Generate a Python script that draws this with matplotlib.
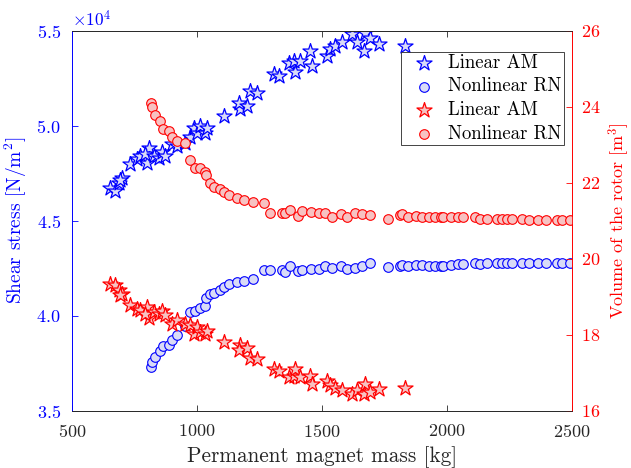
import numpy as np
import matplotlib
matplotlib.use("Agg")
import matplotlib.pyplot as plt
from matplotlib.ticker import ScalarFormatter

# -----------------------------
# Data
# -----------------------------
# Linear AM designs: magnet mass [kg], shear stress [N/m^2], rotor volume [m^3]
lin_mass = [653, 673, 687, 700, 693, 733, 760, 773, 800, 807, 793, 827, 847, 860,
            873, 900, 920, 953, 973, 987, 1000, 1013, 1033, 1040, 1107, 1173, 1167,
            1200, 1213, 1240, 1307, 1327, 1367, 1387, 1393, 1413, 1453, 1460, 1520,
            1533, 1553, 1580, 1620, 1640, 1673, 1667, 1693, 1727, 1833]
lin_stress = [46750, 46580, 47000, 47280, 47150, 48000, 48250, 48420, 48070, 48860,
              48510, 48420, 48330, 48600, 48420, 49040, 48950, 49120, 49390, 49910,
              49650, 50000, 49650, 49910, 50530, 50880, 51230, 51050, 51840, 51750,
              52720, 52630, 53330, 53420, 52810, 53420, 53950, 53160, 53680, 54040,
              54210, 54390, 54820, 54390, 54910, 53950, 54650, 54300, 54210]
lin_volume = [19.35, 19.30, 19.19, 19.07, 19.04, 18.79, 18.69, 18.66, 18.73, 18.44,
              18.56, 18.60, 18.56, 18.62, 18.53, 18.29, 18.38, 18.29, 18.25, 18.03,
              18.20, 18.07, 18.03, 18.11, 17.82, 17.74, 17.60, 17.65, 17.38, 17.37,
              17.10, 17.06, 16.88, 16.93, 17.10, 16.88, 16.93, 16.70, 16.79, 16.68,
              16.59, 16.55, 16.44, 16.55, 16.70, 16.44, 16.50, 16.57, 16.59]

# Nonlinear RN designs
nl_mass = [817, 820, 831, 853, 864, 887, 900, 920, 953, 973, 993, 1011, 1031, 1037,
           1051, 1069, 1091, 1107, 1127, 1160, 1187, 1224, 1269, 1291, 1340, 1353,
           1371, 1403, 1420, 1456, 1487, 1511, 1540, 1577, 1600, 1633, 1660, 1691,
           1763, 1811, 1820, 1843, 1877, 1900, 1927, 1951, 1977, 1987, 2017, 2047,
           2067, 2113, 2133, 2163, 2200, 2220, 2240, 2260, 2300, 2331, 2364, 2397,
           2440, 2460, 2493]
nl_stress = [37330, 37560, 37860, 38130, 38410, 38480, 38750, 39010, 39470, 40210,
             40250, 40390, 40510, 40920, 41130, 41180, 41340, 41540, 41660, 41770,
             41840, 41940, 42440, 42420, 42420, 42330, 42650, 42370, 42420, 42460,
             42460, 42650, 42510, 42650, 42470, 42540, 42600, 42770, 42560, 42600,
             42690, 42630, 42690, 42690, 42650, 42650, 42650, 42650, 42690, 42720,
             42720, 42770, 42720, 42770, 42770, 42770, 42770, 42770, 42810, 42810,
             42810, 42810, 42810, 42810, 42810]
nl_volume = [24.11, 24.00, 23.78, 23.63, 23.43, 23.37, 23.21, 23.11, 23.04, 22.61,
             22.38, 22.38, 22.29, 22.20, 21.99, 21.89, 21.85, 21.76, 21.68, 21.61,
             21.54, 21.50, 21.48, 21.22, 21.22, 21.22, 21.29, 21.13, 21.26, 21.24,
             21.22, 21.22, 21.11, 21.19, 21.11, 21.22, 21.18, 21.15, 21.06, 21.16,
             21.18, 21.11, 21.13, 21.11, 21.09, 21.11, 21.11, 21.11, 21.09, 21.09,
             21.09, 21.09, 21.06, 21.06, 21.04, 21.04, 21.04, 21.04, 21.04, 21.03,
             21.03, 21.03, 21.03, 21.03, 21.03]

# -----------------------------
# Style
# -----------------------------
plt.rcParams["font.family"] = ["cmr10", "DejaVu Serif"]
plt.rcParams["mathtext.fontset"] = "cm"
plt.rcParams["axes.formatter.use_mathtext"] = True
plt.rcParams["axes.unicode_minus"] = False

blue = (0, 0, 1)
red = (1, 0, 0)
blue_face = (0.85, 0.86, 0.97)
red_face = (0.97, 0.76, 0.76)
dark = (0.15, 0.15, 0.15)

fig = plt.figure(figsize=(6.31, 4.68), dpi=100)
ax1 = fig.add_axes([0.114, 0.122, 0.792, 0.812])
ax2 = ax1.twinx()

# -----------------------------
# Left axis: shear stress
# -----------------------------
h1 = ax1.scatter(lin_mass, lin_stress, s=130, marker="*", facecolor=blue_face,
                 edgecolor=blue, linewidth=0.9, label="Linear AM")
h2 = ax1.scatter(nl_mass, nl_stress, s=48, marker="o", facecolor=blue_face,
                 edgecolor=blue, linewidth=0.8, label="Nonlinear RN")

ax1.set_xlim(500, 2500)
ax1.set_ylim(35000, 55000)
ax1.set_xticks([500, 1000, 1500, 2000, 2500])
ax1.set_yticks([35000, 40000, 45000, 50000, 55000])
fmt = ScalarFormatter(useMathText=True)
fmt.set_powerlimits((0, 0))
ax1.yaxis.set_major_formatter(fmt)
ax1.yaxis.get_offset_text().set_color(blue)
ax1.yaxis.get_offset_text().set_fontsize(12.5)

ax1.set_xlabel("Permanent magnet mass [kg]", fontsize=15.3, color=dark, labelpad=4)
ax1.set_ylabel(r"Shear stress [N/m$^2$]", fontsize=14, color=blue, labelpad=5)
ax1.tick_params(axis="x", direction="in", top=True, labelsize=13, colors=dark,
                length=4, width=0.6, pad=9)
ax1.tick_params(axis="y", direction="in", labelsize=13, colors=blue,
                length=4, width=0.6, pad=8)

# -----------------------------
# Right axis: rotor volume
# -----------------------------
h3 = ax2.scatter(lin_mass, lin_volume, s=130, marker="*", facecolor=red_face,
                 edgecolor=red, linewidth=0.9, label="Linear AM")
h4 = ax2.scatter(nl_mass, nl_volume, s=48, marker="o", facecolor=red_face,
                 edgecolor=red, linewidth=0.8, label="Nonlinear RN")

ax2.set_ylim(16, 26)
ax2.set_yticks([16, 18, 20, 22, 24, 26])
ax2.set_ylabel(r"Volume of the rotor [m$^3$]", fontsize=13, color=red, labelpad=4)
ax2.tick_params(axis="y", direction="in", labelsize=13, colors=red,
                length=4, width=0.6, pad=7)

for ax in (ax1, ax2):
    ax.spines["top"].set_color(dark)
    ax.spines["bottom"].set_color(dark)
    ax.spines["left"].set_color(blue)
    ax.spines["right"].set_color(red)
    for sp in ax.spines.values():
        sp.set_linewidth(0.6)

leg = ax2.legend(handles=[h1, h2, h3, h4], loc="upper right", fontsize=13.5,
                 fancybox=False, framealpha=1, edgecolor=dark,
                 borderaxespad=0.3, handletextpad=0.2, borderpad=0.12,
                 labelspacing=0.3, handlelength=2.2,
                 bbox_to_anchor=(0.995, 0.96))
leg.get_frame().set_linewidth(0.6)

fig.savefig("out.png", dpi=100)
